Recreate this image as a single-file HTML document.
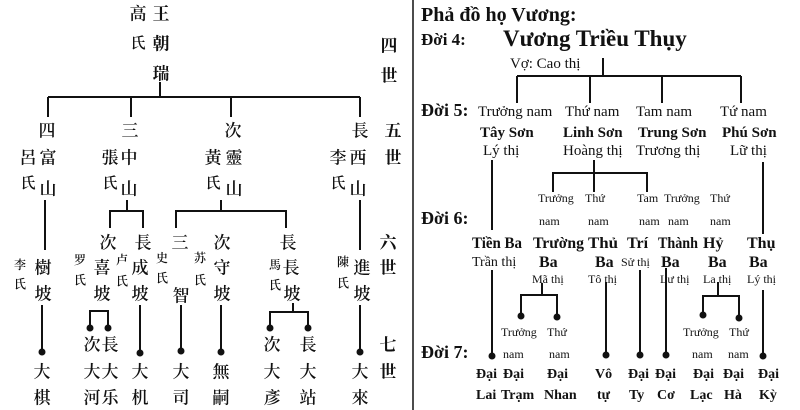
<!DOCTYPE html>
<html><head><meta charset="utf-8"><style>
html,body{margin:0;padding:0;background:#fff;}
svg{display:block}
.c{font-family:"Liberation Serif","Noto Serif CJK SC","Noto Sans CJK SC",serif;font-size:17px;fill:#111;text-anchor:middle;dominant-baseline:central;font-weight:600}
.cs{font-size:12px}
.v{font-family:"Liberation Serif",serif;fill:#111}
.b{font-weight:bold}
</style></head><body>
<svg width="800" height="410" viewBox="0 0 800 410" xmlns="http://www.w3.org/2000/svg">
<g stroke="#111" stroke-width="2" fill="none">
<path d="M160 82V97M48 97H360M48 97V117M131 97V117M231 97V117M360 97V117"/>
<path d="M45 200V250M127 200V211M110 228V211H143V228M221 200V211M176 228V211H286V228M360 200V250"/>
<path d="M42 305V352M90 328V311H108V328M140 305V353M181 305V351M221 305V352M293 303V312M270 328V312H308V328M360 305V352"/>
<path d="M413 0V410" stroke-width="1.5"/>
<path d="M603 58V77M517 76H741M517 76V103M590 76V103M662 76V103M741 76V103"/>
<path d="M492 160V230M492 270V355M594 160V173M553 192V173H647V192M594 173V192M763 162V234M763 290V355"/>
<path d="M542 283V295M521 316V295H557V316M606 282V355M640 270V355M666 268V355M718 282V296M703 315V296H739V318"/>
</g>
<g fill="#111">
<circle cx="42" cy="352" r="3.5"/><circle cx="90" cy="328" r="3.5"/><circle cx="108" cy="328" r="3.5"/><circle cx="140" cy="353" r="3.5"/><circle cx="181" cy="351" r="3.5"/><circle cx="221" cy="352" r="3.5"/><circle cx="270" cy="328" r="3.5"/><circle cx="308" cy="328" r="3.5"/><circle cx="360" cy="352" r="3.5"/>
<circle cx="492" cy="356" r="3.5"/><circle cx="521" cy="316" r="3.5"/><circle cx="557" cy="317" r="3.5"/><circle cx="606" cy="355" r="3.5"/><circle cx="640" cy="355" r="3.5"/><circle cx="666" cy="355" r="3.5"/><circle cx="703" cy="315" r="3.5"/><circle cx="739" cy="318" r="3.5"/><circle cx="763" cy="356" r="3.5"/>
</g>
<g class="c">
<text x="138" y="14">高</text><text x="161" y="14" class="b">王</text>
<text x="138" y="44" style="font-size:15px">氏</text><text x="161" y="44" class="b">朝</text>
<text x="161" y="74" class="b">瑞</text>
<text x="389" y="46" class="b">四</text><text x="389" y="76" class="b">世</text>
<text x="47" y="131">四</text><text x="130" y="131">三</text><text x="233" y="131">次</text><text x="360" y="131">長</text><text x="393" y="131" class="b">五</text>
<text x="28" y="158">呂</text><text x="48" y="158">富</text><text x="28" y="184" style="font-size:15px">氏</text><text x="48" y="189">山</text>
<text x="110" y="158">張</text><text x="129" y="158">中</text><text x="110" y="184" style="font-size:15px">氏</text><text x="129" y="189">山</text>
<text x="213" y="158">黃</text><text x="234" y="158">靈</text><text x="213" y="184" style="font-size:15px">氏</text><text x="234" y="189">山</text>
<text x="338" y="158">李</text><text x="358" y="158">西</text><text x="338" y="184" style="font-size:15px">氏</text><text x="358" y="189">山</text>
<text x="393" y="158" class="b">世</text>
<text x="108" y="243">次</text><text x="143" y="243">長</text><text x="180" y="243">三</text><text x="222" y="243">次</text><text x="288" y="243">長</text><text x="388" y="243" class="b">六</text>
<text x="20" y="265" class="cs">李</text><text x="20" y="284" class="cs">氏</text><text x="43" y="268">樹</text><text x="43" y="294">坡</text>
<text x="80" y="260" class="cs">罗</text><text x="80" y="280" class="cs">氏</text><text x="102" y="268">喜</text><text x="102" y="294">坡</text>
<text x="122" y="260" class="cs">卢</text><text x="122" y="281" class="cs">氏</text><text x="140" y="268">成</text><text x="140" y="294">坡</text>
<text x="162" y="258" class="cs">史</text><text x="162" y="278" class="cs">氏</text><text x="181" y="296">智</text>
<text x="200" y="258" class="cs">苏</text><text x="200" y="280" class="cs">氏</text><text x="222" y="268">守</text><text x="222" y="294">坡</text>
<text x="275" y="265" class="cs">馬</text><text x="275" y="285" class="cs">氏</text><text x="291" y="268">長</text><text x="292" y="294">坡</text>
<text x="343" y="262" class="cs">陳</text><text x="343" y="283" class="cs">氏</text><text x="362" y="268">進</text><text x="362" y="294">坡</text>
<text x="388" y="268" class="b">世</text>
<text x="92" y="345">次</text><text x="110" y="345">長</text><text x="272" y="345">次</text><text x="308" y="345">長</text><text x="388" y="345" class="b">七</text>
<text x="42" y="372">大</text><text x="92" y="372">大</text><text x="110" y="372">大</text><text x="140" y="372">大</text><text x="181" y="372">大</text><text x="221" y="372">無</text><text x="272" y="372">大</text><text x="308" y="372">大</text><text x="360" y="372">大</text><text x="388" y="372" class="b">世</text>
<text x="42" y="398">棋</text><text x="92" y="398">河</text><text x="110" y="398">乐</text><text x="140" y="398">机</text><text x="181" y="398">司</text><text x="221" y="398">嗣</text><text x="272" y="398">彥</text><text x="308" y="398">站</text><text x="360" y="398">來</text>
</g>
<g class="v">
<text x="421" y="21" class="b" font-size="20">Phả đồ họ Vương:</text>
<text x="421" y="45" class="b" font-size="17">Đời 4:</text>
<text x="503" y="46" class="b" font-size="23">Vương Triều Thụy</text>
<text x="510" y="68" font-size="15">Vợ: Cao thị</text>
<text x="421" y="116" class="b" font-size="18">Đời 5:</text>
<g font-size="15">
<text x="478" y="116">Trưởng nam</text><text x="565" y="116">Thứ nam</text><text x="636" y="116">Tam nam</text><text x="720" y="116">Tứ nam</text>
<text x="480" y="137" class="b">Tây Sơn</text><text x="563" y="137" class="b">Linh Sơn</text><text x="638" y="137" class="b">Trung Sơn</text><text x="722" y="137" class="b">Phú Sơn</text>
<text x="483" y="155">Lý thị</text><text x="563" y="155">Hoàng thị</text><text x="636" y="155">Trương thị</text><text x="730" y="155">Lữ thị</text>
</g>
<text x="421" y="224" class="b" font-size="18">Đời 6:</text>
<g font-size="12">
<text x="538" y="202">Trưởng</text><text x="585" y="202">Thứ</text><text x="637" y="202">Tam</text><text x="664" y="202">Trưởng</text><text x="710" y="202">Thứ</text>
<text x="539" y="225">nam</text><text x="588" y="225">nam</text><text x="639" y="225">nam</text><text x="668" y="225">nam</text><text x="710" y="225">nam</text>
</g>
<g font-size="16" class="b">
<text x="472" y="248" textLength="50" lengthAdjust="spacingAndGlyphs">Tiền Ba</text><text x="533" y="248" textLength="51" lengthAdjust="spacingAndGlyphs">Trường</text><text x="588" y="248" textLength="30" lengthAdjust="spacingAndGlyphs">Thủ</text><text x="627" y="248">Trí</text><text x="658" y="248" textLength="40" lengthAdjust="spacingAndGlyphs">Thành</text><text x="703" y="248">Hỷ</text><text x="747" y="248">Thụ</text>
<text x="539" y="267">Ba</text><text x="595" y="267">Ba</text><text x="661" y="267">Ba</text><text x="708" y="267">Ba</text><text x="749" y="267">Ba</text>
</g>
<text x="472" y="266" font-size="14">Trần thị</text>
<text x="621" y="266" font-size="12">Sử thị</text>
<g font-size="12">
<text x="532" y="283">Mã thị</text><text x="588" y="283">Tô thị</text><text x="660" y="283">Lư thị</text><text x="703" y="283">La thị</text><text x="747" y="283">Lý thị</text>
<text x="501" y="336">Trưởng</text><text x="547" y="336">Thứ</text><text x="683" y="336">Trưởng</text><text x="729" y="336">Thứ</text>
<text x="503" y="358">nam</text><text x="549" y="358">nam</text><text x="692" y="358">nam</text><text x="728" y="358">nam</text>
</g>
<text x="421" y="358" class="b" font-size="18">Đời 7:</text>
<g font-size="14" class="b">
<text x="476" y="378">Đại</text><text x="503" y="378">Đại</text><text x="547" y="378">Đại</text><text x="595" y="378">Vô</text><text x="628" y="378">Đại</text><text x="655" y="378">Đại</text><text x="693" y="378">Đại</text><text x="723" y="378">Đại</text><text x="758" y="378">Đại</text>
<text x="476" y="399">Lai</text><text x="501" y="399">Trạm</text><text x="544" y="399">Nhan</text><text x="597" y="399">tự</text><text x="629" y="399">Ty</text><text x="657" y="399">Cơ</text><text x="690" y="399">Lạc</text><text x="724" y="399">Hà</text><text x="759" y="399">Kỳ</text>
</g>
</g>
</svg>
</body></html>
